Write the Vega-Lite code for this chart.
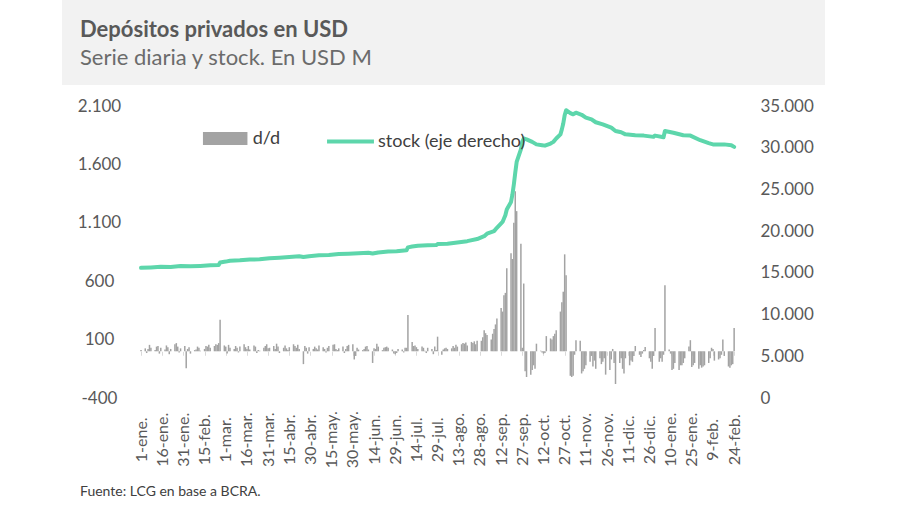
{
  "$schema": "https://vega.github.io/schema/vega-lite/v6.json",
  "background": "white",
  "padding": {"left": 62, "top": 0, "right": 0, "bottom": 0},
  "config": {"view": {"stroke": null}, "font": "Lato"},
  "datasets": {
    "bars": [
      {"d":"2016-01-01","v":10},{"d":"2016-01-04","v":25},{"d":"2016-01-05","v":-15},{"d":"2016-01-06","v":20},{"d":"2016-01-07","v":55},{"d":"2016-01-08","v":30},
      {"d":"2016-01-11","v":10},{"d":"2016-01-12","v":40},{"d":"2016-01-13","v":45},{"d":"2016-01-14","v":-20},{"d":"2016-01-15","v":30},
      {"d":"2016-01-18","v":15},{"d":"2016-01-19","v":50},{"d":"2016-01-20","v":35},{"d":"2016-01-21","v":-25},{"d":"2016-01-22","v":20},
      {"d":"2016-01-25","v":60},{"d":"2016-01-26","v":70},{"d":"2016-01-27","v":40},{"d":"2016-01-28","v":-10},{"d":"2016-01-29","v":25},
      {"d":"2016-02-01","v":45},{"d":"2016-02-02","v":-145},{"d":"2016-02-03","v":20},{"d":"2016-02-04","v":35},{"d":"2016-02-05","v":-20},
      {"d":"2016-02-08","v":10},{"d":"2016-02-09","v":15},{"d":"2016-02-10","v":40},{"d":"2016-02-11","v":30},{"d":"2016-02-12","v":5},
      {"d":"2016-02-15","v":20},{"d":"2016-02-16","v":45},{"d":"2016-02-17","v":40},{"d":"2016-02-18","v":55},{"d":"2016-02-19","v":30},
      {"d":"2016-02-22","v":45},{"d":"2016-02-23","v":60},{"d":"2016-02-24","v":55},{"d":"2016-02-25","v":70},{"d":"2016-02-26","v":270},{"d":"2016-02-29","v":50},
      {"d":"2016-03-01","v":40},{"d":"2016-03-02","v":-20},{"d":"2016-03-03","v":55},{"d":"2016-03-04","v":30},
      {"d":"2016-03-07","v":20},{"d":"2016-03-08","v":45},{"d":"2016-03-09","v":30},{"d":"2016-03-10","v":-10},{"d":"2016-03-11","v":40},
      {"d":"2016-03-14","v":60},{"d":"2016-03-15","v":35},{"d":"2016-03-16","v":20},{"d":"2016-03-17","v":45},{"d":"2016-03-18","v":15},
      {"d":"2016-03-21","v":50},{"d":"2016-03-22","v":40},{"d":"2016-03-23","v":-15},{"d":"2016-03-24","v":10},{"d":"2016-03-25","v":5},
      {"d":"2016-03-28","v":30},{"d":"2016-03-29","v":45},{"d":"2016-03-30","v":60},{"d":"2016-03-31","v":25},
      {"d":"2016-04-01","v":30},{"d":"2016-04-04","v":45},{"d":"2016-04-05","v":20},{"d":"2016-04-06","v":65},{"d":"2016-04-07","v":40},{"d":"2016-04-08","v":-15},
      {"d":"2016-04-11","v":30},{"d":"2016-04-12","v":50},{"d":"2016-04-13","v":25},{"d":"2016-04-14","v":10},{"d":"2016-04-15","v":35},
      {"d":"2016-04-18","v":60},{"d":"2016-04-19","v":45},{"d":"2016-04-20","v":30},{"d":"2016-04-21","v":55},{"d":"2016-04-22","v":20},
      {"d":"2016-04-25","v":-110},{"d":"2016-04-26","v":45},{"d":"2016-04-27","v":30},{"d":"2016-04-28","v":-20},{"d":"2016-04-29","v":35},
      {"d":"2016-05-02","v":20},{"d":"2016-05-03","v":40},{"d":"2016-05-04","v":25},{"d":"2016-05-05","v":15},{"d":"2016-05-06","v":50},
      {"d":"2016-05-09","v":35},{"d":"2016-05-10","v":20},{"d":"2016-05-11","v":-10},{"d":"2016-05-12","v":30},{"d":"2016-05-13","v":45},
      {"d":"2016-05-16","v":55},{"d":"2016-05-17","v":60},{"d":"2016-05-18","v":20},{"d":"2016-05-19","v":10},{"d":"2016-05-20","v":25},
      {"d":"2016-05-23","v":40},{"d":"2016-05-24","v":-15},{"d":"2016-05-25","v":20},{"d":"2016-05-26","v":45},{"d":"2016-05-27","v":55},
      {"d":"2016-05-30","v":60},{"d":"2016-05-31","v":-70},
      {"d":"2016-06-01","v":-40},{"d":"2016-06-02","v":30},{"d":"2016-06-03","v":15},
      {"d":"2016-06-06","v":10},{"d":"2016-06-07","v":20},{"d":"2016-06-08","v":40},{"d":"2016-06-09","v":45},{"d":"2016-06-10","v":15},
      {"d":"2016-06-13","v":-100},{"d":"2016-06-14","v":25},{"d":"2016-06-15","v":20},{"d":"2016-06-16","v":65},{"d":"2016-06-17","v":40},
      {"d":"2016-06-20","v":10},{"d":"2016-06-21","v":30},{"d":"2016-06-22","v":35},{"d":"2016-06-23","v":40},{"d":"2016-06-24","v":30},
      {"d":"2016-06-27","v":15},{"d":"2016-06-28","v":-20},{"d":"2016-06-29","v":-25},{"d":"2016-06-30","v":-15},
      {"d":"2016-07-01","v":20},{"d":"2016-07-04","v":15},{"d":"2016-07-05","v":-10},{"d":"2016-07-06","v":30},{"d":"2016-07-07","v":30},{"d":"2016-07-08","v":310},
      {"d":"2016-07-11","v":80},{"d":"2016-07-12","v":45},{"d":"2016-07-13","v":50},{"d":"2016-07-14","v":35},{"d":"2016-07-15","v":20},
      {"d":"2016-07-18","v":40},{"d":"2016-07-19","v":30},{"d":"2016-07-20","v":5},{"d":"2016-07-21","v":-15},{"d":"2016-07-22","v":30},
      {"d":"2016-07-25","v":20},{"d":"2016-07-26","v":-25},{"d":"2016-07-27","v":40},{"d":"2016-07-28","v":10},{"d":"2016-07-29","v":125},
      {"d":"2016-08-01","v":-30},{"d":"2016-08-02","v":15},{"d":"2016-08-03","v":25},{"d":"2016-08-04","v":30},{"d":"2016-08-05","v":20},
      {"d":"2016-08-08","v":25},{"d":"2016-08-09","v":45},{"d":"2016-08-10","v":30},{"d":"2016-08-11","v":55},{"d":"2016-08-12","v":40},
      {"d":"2016-08-15","v":60},{"d":"2016-08-16","v":70},{"d":"2016-08-17","v":65},{"d":"2016-08-18","v":75},{"d":"2016-08-19","v":50},
      {"d":"2016-08-22","v":80},{"d":"2016-08-23","v":70},{"d":"2016-08-24","v":85},{"d":"2016-08-25","v":60},{"d":"2016-08-26","v":90},
      {"d":"2016-08-29","v":90},{"d":"2016-08-30","v":120},{"d":"2016-08-31","v":180},
      {"d":"2016-09-01","v":155},{"d":"2016-09-02","v":140},
      {"d":"2016-09-05","v":100},{"d":"2016-09-06","v":150},{"d":"2016-09-07","v":190},{"d":"2016-09-08","v":230},{"d":"2016-09-09","v":280},
      {"d":"2016-09-12","v":370},{"d":"2016-09-13","v":340},{"d":"2016-09-14","v":480},{"d":"2016-09-15","v":500},{"d":"2016-09-16","v":710},
      {"d":"2016-09-19","v":840},{"d":"2016-09-20","v":790},{"d":"2016-09-21","v":1100},{"d":"2016-09-22","v":1370},{"d":"2016-09-23","v":1200},
      {"d":"2016-09-26","v":920},{"d":"2016-09-27","v":30},{"d":"2016-09-28","v":580},{"d":"2016-09-29","v":-170},{"d":"2016-09-30","v":-220},
      {"d":"2016-10-03","v":-200},{"d":"2016-10-04","v":-160},{"d":"2016-10-05","v":-120},{"d":"2016-10-06","v":-150},{"d":"2016-10-07","v":65},
      {"d":"2016-10-10","v":5},{"d":"2016-10-11","v":-10},{"d":"2016-10-12","v":-20},{"d":"2016-10-13","v":-15},{"d":"2016-10-14","v":130},
      {"d":"2016-10-17","v":110},{"d":"2016-10-18","v":100},{"d":"2016-10-19","v":130},{"d":"2016-10-20","v":150},{"d":"2016-10-21","v":180},
      {"d":"2016-10-24","v":340},{"d":"2016-10-25","v":420},{"d":"2016-10-26","v":510},{"d":"2016-10-27","v":830},{"d":"2016-10-28","v":650},
      {"d":"2016-10-31","v":-210},
      {"d":"2016-11-01","v":-220},{"d":"2016-11-02","v":-210},{"d":"2016-11-03","v":-30},{"d":"2016-11-04","v":95},
      {"d":"2016-11-07","v":90},{"d":"2016-11-08","v":-190},{"d":"2016-11-09","v":-170},{"d":"2016-11-10","v":-150},{"d":"2016-11-11","v":-120},
      {"d":"2016-11-14","v":-90},{"d":"2016-11-15","v":-40},{"d":"2016-11-16","v":-130},{"d":"2016-11-17","v":-80},{"d":"2016-11-18","v":-150},
      {"d":"2016-11-21","v":-60},{"d":"2016-11-22","v":-110},{"d":"2016-11-23","v":-90},{"d":"2016-11-24","v":-60},{"d":"2016-11-25","v":-200},
      {"d":"2016-11-28","v":-160},{"d":"2016-11-29","v":-70},{"d":"2016-11-30","v":20},
      {"d":"2016-12-01","v":-100},{"d":"2016-12-02","v":-280},
      {"d":"2016-12-05","v":-100},{"d":"2016-12-06","v":-60},{"d":"2016-12-07","v":-150},{"d":"2016-12-08","v":-190},{"d":"2016-12-09","v":-60},
      {"d":"2016-12-12","v":-120},{"d":"2016-12-13","v":-80},{"d":"2016-12-14","v":-90},{"d":"2016-12-15","v":-40},{"d":"2016-12-16","v":45},
      {"d":"2016-12-19","v":-30},{"d":"2016-12-20","v":-50},{"d":"2016-12-21","v":-20},{"d":"2016-12-22","v":10},{"d":"2016-12-23","v":37},
      {"d":"2016-12-26","v":-60},{"d":"2016-12-27","v":-90},{"d":"2016-12-28","v":-150},{"d":"2016-12-29","v":-40},{"d":"2016-12-30","v":200},
      {"d":"2017-01-02","v":-90},{"d":"2017-01-03","v":-60},{"d":"2017-01-04","v":-90},{"d":"2017-01-05","v":-30},{"d":"2017-01-06","v":565},
      {"d":"2017-01-09","v":15},{"d":"2017-01-10","v":-20},{"d":"2017-01-11","v":-160},{"d":"2017-01-12","v":-150},{"d":"2017-01-13","v":-100},
      {"d":"2017-01-16","v":-160},{"d":"2017-01-17","v":-120},{"d":"2017-01-18","v":-120},{"d":"2017-01-19","v":-100},{"d":"2017-01-20","v":-60},
      {"d":"2017-01-23","v":40},{"d":"2017-01-24","v":95},{"d":"2017-01-25","v":-135},{"d":"2017-01-26","v":-120},{"d":"2017-01-27","v":-100},
      {"d":"2017-01-30","v":-150},{"d":"2017-01-31","v":-120},
      {"d":"2017-02-01","v":-140},{"d":"2017-02-02","v":-130},{"d":"2017-02-03","v":-120},
      {"d":"2017-02-06","v":-100},{"d":"2017-02-07","v":-60},{"d":"2017-02-08","v":30},{"d":"2017-02-09","v":20},{"d":"2017-02-10","v":-80},
      {"d":"2017-02-13","v":-70},{"d":"2017-02-14","v":-60},{"d":"2017-02-15","v":-30},{"d":"2017-02-16","v":100},{"d":"2017-02-17","v":-40},
      {"d":"2017-02-20","v":-130},{"d":"2017-02-21","v":-140},{"d":"2017-02-22","v":-120},{"d":"2017-02-23","v":-110},{"d":"2017-02-24","v":200}
    ],
    "stock": [
      {"d":"2016-01-01","s":15600},{"d":"2016-01-08","s":15650},{"d":"2016-01-15","s":15720},{"d":"2016-01-22","s":15700},{"d":"2016-01-29","s":15820},
      {"d":"2016-02-05","s":15780},{"d":"2016-02-12","s":15830},{"d":"2016-02-19","s":15900},{"d":"2016-02-25","s":15950},{"d":"2016-02-26","s":16250},
      {"d":"2016-03-01","s":16350},{"d":"2016-03-04","s":16450},{"d":"2016-03-11","s":16500},{"d":"2016-03-18","s":16600},{"d":"2016-03-25","s":16620},
      {"d":"2016-04-01","s":16750},{"d":"2016-04-08","s":16820},{"d":"2016-04-15","s":16900},{"d":"2016-04-22","s":17000},{"d":"2016-04-25","s":16900},{"d":"2016-04-29","s":17000},
      {"d":"2016-05-06","s":17100},{"d":"2016-05-13","s":17150},{"d":"2016-05-20","s":17250},{"d":"2016-05-27","s":17300},
      {"d":"2016-06-03","s":17350},{"d":"2016-06-10","s":17400},{"d":"2016-06-13","s":17320},{"d":"2016-06-17","s":17450},{"d":"2016-06-24","s":17550},{"d":"2016-06-30","s":17600},
      {"d":"2016-07-07","s":17700},{"d":"2016-07-08","s":18050},{"d":"2016-07-11","s":18150},{"d":"2016-07-15","s":18250},{"d":"2016-07-22","s":18300},{"d":"2016-07-28","s":18330},{"d":"2016-07-29","s":18450},
      {"d":"2016-08-05","s":18500},{"d":"2016-08-12","s":18650},{"d":"2016-08-19","s":18800},{"d":"2016-08-26","s":19050},{"d":"2016-08-31","s":19400},
      {"d":"2016-09-02","s":19700},{"d":"2016-09-07","s":20000},{"d":"2016-09-09","s":20400},{"d":"2016-09-13","s":21100},{"d":"2016-09-15","s":21900},{"d":"2016-09-16","s":22600},
      {"d":"2016-09-19","s":23500},{"d":"2016-09-20","s":24400},{"d":"2016-09-21","s":25600},{"d":"2016-09-22","s":27000},{"d":"2016-09-23","s":28300},
      {"d":"2016-09-26","s":29800},{"d":"2016-09-27","s":30700},{"d":"2016-09-28","s":31100},{"d":"2016-09-30","s":31000},
      {"d":"2016-10-04","s":30700},{"d":"2016-10-07","s":30400},{"d":"2016-10-11","s":30300},{"d":"2016-10-13","s":30250},{"d":"2016-10-17","s":30500},{"d":"2016-10-19","s":30700},
      {"d":"2016-10-21","s":31100},{"d":"2016-10-24","s":31600},{"d":"2016-10-25","s":32200},{"d":"2016-10-26","s":32900},{"d":"2016-10-27","s":33900},{"d":"2016-10-28","s":34500},
      {"d":"2016-10-31","s":34150},{"d":"2016-11-02","s":34000},{"d":"2016-11-04","s":34200},{"d":"2016-11-08","s":33950},{"d":"2016-11-11","s":33600},{"d":"2016-11-15","s":33400},
      {"d":"2016-11-18","s":33050},{"d":"2016-11-23","s":32800},{"d":"2016-11-29","s":32400},{"d":"2016-12-02","s":32000},{"d":"2016-12-06","s":31850},{"d":"2016-12-09","s":31600},
      {"d":"2016-12-16","s":31500},{"d":"2016-12-22","s":31450},{"d":"2016-12-29","s":31300},{"d":"2016-12-30","s":31450},
      {"d":"2017-01-05","s":31250},{"d":"2017-01-06","s":32000},{"d":"2017-01-12","s":31800},{"d":"2017-01-19","s":31500},{"d":"2017-01-24","s":31450},{"d":"2017-01-31","s":30900},
      {"d":"2017-02-06","s":30550},{"d":"2017-02-09","s":30400},{"d":"2017-02-17","s":30400},{"d":"2017-02-22","s":30300},{"d":"2017-02-24","s":30100}
    ]
  },
  "concat": [
    {
      "width": 763,
      "height": 85,
      "view": {"fill": "#f2f2f2", "stroke": null},
      "data": {"values": [{}]},
      "mark": {"type": "point", "opacity": 0},
      "title": {
        "text": "Depósitos privados en USD",
        "subtitle": "Serie diaria y stock. En USD M",
        "anchor": "start",
        "orient": "top",
        "frame": "bounds",
        "offset": -70,
        "dx": 18,
        "font": "Lato",
        "fontSize": 22,
        "fontWeight": "bold",
        "color": "#595959",
        "subtitleFont": "Lato",
        "subtitleFontSize": 22,
        "subtitleColor": "#6b6b6b",
        "subtitlePadding": 6
      }
    },
    {
      "width": 763,
      "height": 292,
      "title": {
        "text": "Fuente:  LCG en base a BCRA.",
        "orient": "bottom",
        "anchor": "start",
        "frame": "bounds",
        "offset": 17,
        "dx": 18,
        "font": "Lato",
        "fontSize": 14,
        "fontWeight": "normal",
        "color": "#404040"
      },
      "encoding": {
        "x": {
          "field": "d",
          "type": "temporal",
          "scale": {
            "type": "utc",
            "nice": false,
            "domain": [
              {"year": 2015, "month": 11, "date": 9, "hours": 14, "minutes": 5, "utc": true},
              {"year": 2017, "month": 4, "date": 25, "hours": 19, "minutes": 10, "utc": true}
            ]
          },
          "axis": {
            "title": null,
            "orient": "bottom",
            "offset": -46.72,
            "grid": false,
            "domain": false,
            "ticks": true,
            "tickSize": 4,
            "tickColor": "#d9d9d9",
            "labelAngle": 270,
            "labelAlign": "center",
            "labelBaseline": "middle",
            "labelPadding": 84,
            "labelFont": "Lato",
            "labelFontSize": 16,
            "labelColor": "#595959",
            "labelOverlap": false,
            "labelFlush": false,
            "labelBound": false,
            "labelExpr": "utcdate(datum.value) + '-' + ['ene','feb','mar','abr','may','jun','jul','ago','sep','oct','nov','dic'][utcmonth(datum.value)] + '.'",
            "values": [
              {"year": 2016, "month": 1, "date": 1, "utc": true},
              {"year": 2016, "month": 1, "date": 16, "utc": true},
              {"year": 2016, "month": 1, "date": 31, "utc": true},
              {"year": 2016, "month": 2, "date": 15, "utc": true},
              {"year": 2016, "month": 3, "date": 1, "utc": true},
              {"year": 2016, "month": 3, "date": 16, "utc": true},
              {"year": 2016, "month": 3, "date": 31, "utc": true},
              {"year": 2016, "month": 4, "date": 15, "utc": true},
              {"year": 2016, "month": 4, "date": 30, "utc": true},
              {"year": 2016, "month": 5, "date": 15, "utc": true},
              {"year": 2016, "month": 5, "date": 30, "utc": true},
              {"year": 2016, "month": 6, "date": 14, "utc": true},
              {"year": 2016, "month": 6, "date": 29, "utc": true},
              {"year": 2016, "month": 7, "date": 14, "utc": true},
              {"year": 2016, "month": 7, "date": 29, "utc": true},
              {"year": 2016, "month": 8, "date": 13, "utc": true},
              {"year": 2016, "month": 8, "date": 28, "utc": true},
              {"year": 2016, "month": 9, "date": 12, "utc": true},
              {"year": 2016, "month": 9, "date": 27, "utc": true},
              {"year": 2016, "month": 10, "date": 12, "utc": true},
              {"year": 2016, "month": 10, "date": 27, "utc": true},
              {"year": 2016, "month": 11, "date": 11, "utc": true},
              {"year": 2016, "month": 11, "date": 26, "utc": true},
              {"year": 2016, "month": 12, "date": 11, "utc": true},
              {"year": 2016, "month": 12, "date": 26, "utc": true},
              {"year": 2017, "month": 1, "date": 10, "utc": true},
              {"year": 2017, "month": 1, "date": 25, "utc": true},
              {"year": 2017, "month": 2, "date": 9, "utc": true},
              {"year": 2017, "month": 2, "date": 24, "utc": true}
            ]
          }
        }
      },
      "layer": [
        {
          "layer": [
            {
              "data": {"name": "bars"},
              "mark": {"type": "bar", "width": 1.5},
              "encoding": {
                "y": {
                  "field": "v",
                  "type": "quantitative",
                  "scale": {"domain": [-400, 2100], "nice": false, "zero": false},
                  "axis": {
                    "title": null,
                    "orient": "left",
                    "values": [-400, 100, 600, 1100, 1600, 2100],
                    "domain": false,
                    "ticks": false,
                    "tickSize": 0,
                    "grid": false,
                    "labelAlign": "center",
                    "labelBaseline": "middle",
                    "labelPadding": -37,
                    "labelFont": "Lato",
                    "labelFontSize": 17,
                    "labelColor": "#595959",
                    "minExtent": 0,
                    "maxExtent": 0,
                    "labelExpr": "(datum.value < 0 ? '-' : '') + replace(format(abs(datum.value), ','), ',', '.')"
                  }
                },
                "color": {
                  "datum": "d/d",
                  "type": "nominal",
                  "scale": {"range": ["#a3a3a3"]},
                  "legend": {
                    "title": null,
                    "orient": "none",
                    "legendX": 140.7,
                    "legendY": 10,
                    "padding": 0,
                    "symbolType": "M-1,-0.29H1V0.29H-1Z",
                    "symbolSize": 1980,
                    "symbolStrokeWidth": 0,
                    "symbolOpacity": 1,
                    "labelFont": "Lato",
                    "labelFontSize": 18,
                    "labelColor": "#404040",
                    "labelOffset": 5
                  }
                }
              }
            },
            {
              "data": {"values": [{}]},
              "mark": {"type": "rule", "color": "#d9d9d9", "strokeWidth": 1},
              "encoding": {
                "x": {"datum": {"year": 2015, "month": 12, "date": 31, "utc": true}, "type": "temporal"},
                "x2": {"datum": {"year": 2017, "month": 2, "date": 26, "utc": true}},
                "y": {"datum": 0, "type": "quantitative"}
              }
            }
          ]
        },
        {
          "data": {"name": "stock"},
          "mark": {"type": "line", "strokeWidth": 4, "strokeJoin": "round", "strokeCap": "round"},
          "encoding": {
            "y": {
              "field": "s",
              "type": "quantitative",
              "scale": {"domain": [0, 35000], "nice": false},
              "axis": {
                "title": null,
                "orient": "right",
                "values": [0, 5000, 10000, 15000, 20000, 25000, 30000, 35000],
                "domain": false,
                "ticks": false,
                "tickSize": 0,
                "grid": false,
                "labelAlign": "left",
                "labelBaseline": "middle",
                "labelPadding": -65,
                "labelFont": "Lato",
                "labelFontSize": 17,
                "labelColor": "#595959",
                "minExtent": 0,
                "maxExtent": 0,
                "labelExpr": "replace(format(datum.value, ','), ',', '.')"
              }
            },
            "stroke": {
              "datum": "stock (eje derecho)",
              "type": "nominal",
              "scale": {"range": ["#5dd6ab"]},
              "legend": {
                "title": null,
                "orient": "none",
                "legendX": 263,
                "legendY": 10,
                "padding": 0,
                "symbolType": "stroke",
                "symbolSize": 2200,
                "symbolStrokeWidth": 4,
                "labelFont": "Lato",
                "labelFontSize": 18,
                "labelColor": "#404040",
                "labelOffset": 2
              }
            }
          }
        }
      ],
      "resolve": {"scale": {"y": "independent"}}
    }
  ],
  "columns": 1,
  "align": "none",
  "spacing": 12,
  "resolve": {"legend": {"color": "independent", "stroke": "independent"}}
}
